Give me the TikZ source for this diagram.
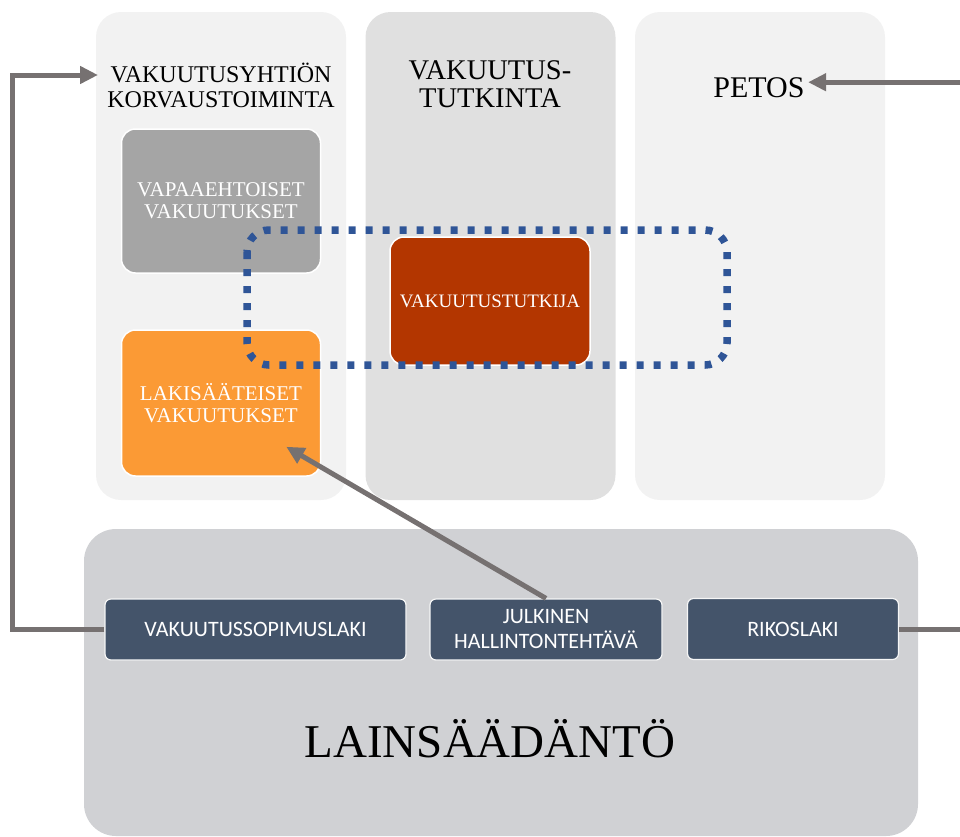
\documentclass[tikz,border=0pt]{standalone}
\usepackage{fontspec}
\setmainfont{Liberation Serif}
\setsansfont{Carlito}
\usetikzlibrary{arrows.meta}

\definecolor{panellight}{HTML}{F2F2F2}
\definecolor{panelmid}{HTML}{E0E0E0}
\definecolor{lawgray}{HTML}{D0D1D4}
\definecolor{boxgray}{HTML}{A5A5A5}
\definecolor{boxorange}{HTML}{FB9A35}
\definecolor{boxred}{HTML}{B33600}
\definecolor{lawblue}{HTML}{44546A}
\definecolor{dotblue}{HTML}{2F5597}
\definecolor{arrowgray}{HTML}{767171}

\begin{document}
\begin{tikzpicture}[
    x=1pt, y=-1pt,
    panel/.style={rounded corners=25pt, minimum width=250pt, minimum height=488pt},
    box/.style={draw=white, line width=1.5pt, rounded corners=14pt, text=white, align=center,
        minimum width=199pt, font=\fontsize{21}{22}\selectfont},
    law/.style={draw=white!80!lawgray, line width=1.2pt, fill=lawblue, rounded corners=6pt, text=white,
        align=center, minimum height=61pt, font=\sffamily\fontsize{22}{25}\selectfont},
    link/.style={draw=arrowgray, line width=5pt, -{Triangle[length=18pt,width=17pt]}},
]
    \useasboundingbox (0,0) rectangle (960,836);
    \clip (0,0) rectangle (960,836);

    \foreach \name/\cx/\col in {korvpanel/221/panellight, tutkpanel/490.5/panelmid, petospanel/760/panellight}{
        \node[panel, fill=\col] (\name) at (\cx,256) {};
    }
    \node[fill=lawgray, rounded corners=32pt, minimum width=834pt, minimum height=307pt] (lakipanel) at (501,682.5) {};

    \node[align=center, font=\fontsize{24}{24.5}\selectfont] (korv) at (221,85.5) {VAKUUTUSYHTIÖN\\KORVAUSTOIMINTA};
    \node[align=center, font=\fontsize{28.5}{28}\selectfont] (tutk) at (490,84) {VAKUUTUS-\\TUTKINTA};
    \node[anchor=base, font=\fontsize{30}{30}\selectfont] (petos) at (759,97) {PETOS};

    \node[box, fill=boxgray, minimum height=144pt] (vapaa) at (221,201) {VAPAAEHTOISET\\VAKUUTUKSET};
    \node[box, fill=boxorange, minimum height=146pt] (lakis) at (221,403) {LAKISÄÄTEISET\\VAKUUTUKSET};
    \node[box, fill=boxred, minimum width=200pt, minimum height=128pt, font=\fontsize{19}{20}\selectfont] (tutkija) at (490,301) {VAKUUTUSTUTKIJA};

    % 虚线框压在方块上面
    \draw[dotblue, line width=7.5pt, dash pattern=on 7pt off 10pt, rounded corners=22pt] (247,230) rectangle (727,365);

    \node[law, minimum width=301pt] (sopimus) at (255.5,629.5) {VAKUUTUSSOPIMUSLAKI};
    \node[law, minimum width=232pt] (julk) at (546,629.5) {JULKINEN\\HALLINTONTEHTÄVÄ};
    \node[law, minimum width=211pt] (riko) at (793,629) {RIKOSLAKI};
    \node[anchor=base, font=\fontsize{47}{47}\selectfont] (laki) at (490,757) {LAINSÄÄDÄNTÖ};

    \coordinate (korvtip) at (98,75);
    \draw[link] (sopimus.west) -- ++(-92,0) |- (korvtip);
    \draw[link] (riko.east) -- ++(90,0) |- ([yshift=5pt]petos.east);
    \draw[link] (julk.north) -- ([xshift=-35pt,yshift=30pt]lakis.south east);
\end{tikzpicture}
\end{document}
